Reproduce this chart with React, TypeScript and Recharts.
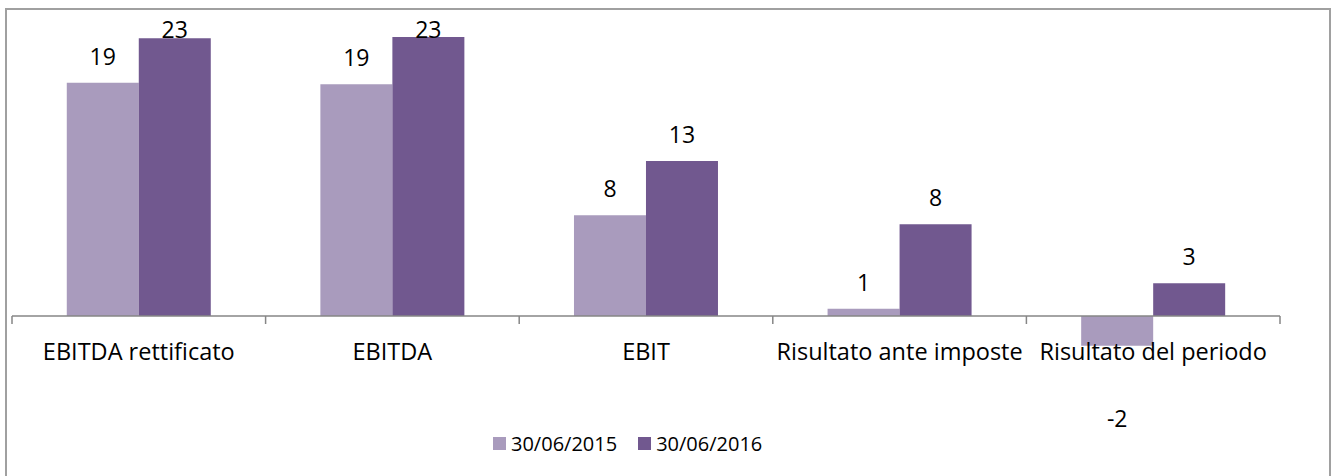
import React from 'react';
import { BarChart, Bar, XAxis, YAxis, ReferenceLine, Legend, LabelList } from 'recharts';

const categories = ['EBITDA rettificato', 'EBITDA', 'EBIT', 'Risultato ante imposte', 'Risultato del periodo'];
const values2015 = [19.2, 19.07, 8.29, 0.6, -2.45];
const values2016 = [22.86, 22.96, 12.76, 7.55, 2.69];
const seriesNames = ['30/06/2015', '30/06/2016'];
const seriesColors = ['#A99BBD', '#71588F'];
const yDomain = [-5, 25];

const data = categories.map((c, i) => ({ name: c, s2015: values2015[i], s2016: values2016[i] }));

const FONT = '"Open Sans", sans-serif';
const FS_CAT = 23.5;
const FS_VAL = 23;
const FS_LEG = 20;

const BarValueLabel = (props: any) => {
  const x = Number(props.x);
  const y = Number(props.y);
  const width = Number(props.width);
  const height = Number(props.height);
  const value = Number(props.value);
  const top = Math.min(y, y + height);
  const bottom = Math.max(y, y + height);
  const cx = x + width / 2;
  const ty = value < 0 ? bottom + 81 : Math.max(top - 18, 38);
  return (
    <text x={cx} y={ty} textAnchor="middle" fontFamily={FONT} fontSize={FS_VAL} fill="#000">
      {Math.round(value)}
    </text>
  );
};

const AxisAtZero = (props: any) => {
  const x1 = Number(props.x1);
  const y1 = Number(props.y1);
  const x2 = Number(props.x2);
  const n = categories.length;
  const step = (x2 - x1) / n;
  return (
    <g>
      <line x1={x1} y1={y1} x2={x2} y2={y1} stroke="#868686" strokeWidth={1.5} />
      {Array.from({ length: n + 1 }).map((_, i) => (
        <line key={'t' + i} x1={x1 + i * step} y1={y1} x2={x1 + i * step} y2={y1 + 8} stroke="#868686" strokeWidth={1.5} />
      ))}
      {categories.map((c, i) => (
        <text key={'l' + i} x={x1 + (i + 0.5) * step} y={y1 + 44} textAnchor="middle" fontFamily={FONT} fontSize={FS_CAT} fill="#000">
          {c}
        </text>
      ))}
    </g>
  );
};

const LegendContent = (props: any) => {
  const payload = props.payload || [];
  return (
    <div style={{ display: 'flex', alignItems: 'center', fontFamily: FONT, fontSize: FS_LEG, color: '#000', whiteSpace: 'nowrap' }}>
      {payload.map((p: any, i: number) => (
        <div key={i} style={{ display: 'flex', alignItems: 'center', marginRight: i < payload.length - 1 ? 21 : 0 }}>
          <span style={{ width: 13, height: 13, background: p.color, marginRight: 5, display: 'inline-block' }} />
          <span>{p.value}</span>
        </div>
      ))}
    </div>
  );
};

export default function App() {
  return (
    <div style={{ position: 'absolute', left: 0, top: 0, width: 1337, height: 476, overflow: 'hidden', background: '#fff' }}>
      <div style={{ position: 'absolute', left: 5, top: 8, width: 1322, height: 480, border: '2px solid #a0a0a0' }} />
      <BarChart
        width={1337}
        height={476}
        data={data}
        margin={{ top: 12.25, right: 57, bottom: 99.25, left: 12 }}
        barCategoryGap="21.6%"
        barGap={0}
      >
        <XAxis dataKey="name" hide />
        <YAxis hide domain={yDomain} />
        <Bar dataKey="s2015" name={seriesNames[0]} fill={seriesColors[0]} isAnimationActive={false}>
          <LabelList dataKey="s2015" content={BarValueLabel} />
        </Bar>
        <Bar dataKey="s2016" name={seriesNames[1]} fill={seriesColors[1]} isAnimationActive={false}>
          <LabelList dataKey="s2016" content={BarValueLabel} />
        </Bar>
        <ReferenceLine y={0} shape={AxisAtZero} />
        <Legend
          layout="horizontal"
          verticalAlign="middle"
          align="center"
          content={LegendContent}
          wrapperStyle={{ left: 493, top: 430, width: 'auto', height: 'auto' }}
        />
      </BarChart>
    </div>
  );
}
